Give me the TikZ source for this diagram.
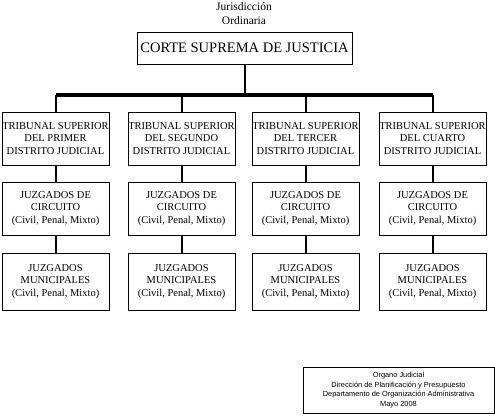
\documentclass[tikz,border=0pt]{standalone}
\usepackage{fontspec}
\setmainfont{Liberation Serif}
\newfontfamily\footfont{Liberation Sans}
\usepackage{tikz}

\tikzset{
  box/.style = {draw, line width=0.7pt, align=center, inner sep=0pt,
                minimum width=107pt, minimum height=53pt,
                font=\fontsize{10.5}{12.8}\selectfont},
  link/.style = {line width=2pt},
  bar/.style = {line width=3.2pt}
}

\begin{document}
\begin{tikzpicture}[x=1pt, y=-1pt]
    \useasboundingbox (0,0) rectangle (495,415);

    \node [align=center, font=\fontsize{11.5}{14}\selectfont] (jur) at (244,14) {Jurisdicción\\Ordinaria};
    \node [box, minimum width=215pt, minimum height=32pt, font=\fontsize{14.5}{16}\selectfont] (corte) at (244.5,48) {CORTE SUPREMA DE JUSTICIA};

    \foreach \i/\x/\ord in {1/55.5/PRIMER, 2/181.5/SEGUNDO, 3/305.5/TERCER, 4/432.5/CUARTO}
    {
        \node [box] (t\i) at (\x,138.5) {TRIBUNAL SUPERIOR\\DEL \ord\\DISTRITO JUDICIAL};
        \node [box] (c\i) at (\x,208.5) {JUZGADOS DE\\CIRCUITO\\(Civil, Penal, Mixto)};
        \node [box, minimum height=57pt] (m\i) at (\x,281.5) {JUZGADOS\\MUNICIPALES\\(Civil, Penal, Mixto)};
    }

    % links
    \coordinate (junc) at (244.5,95);
    \draw [link] (corte.south) -- (junc);
    \draw [bar] (t1.north |- junc) -- (t4.north |- junc);
    \foreach \i in {1,...,4}
    {
        \draw [link] (t\i.north |- junc) -- (t\i.north);
        \draw [link] (t\i) -- (c\i);
        \draw [link] (c\i) -- (m\i);
    }

    \node [draw, line width=0.7pt, align=center, minimum width=191pt, minimum height=46pt, inner sep=0pt,
           font=\footfont\fontsize{7.4}{9.7}\selectfont] (pie) at (398.5,390)
          {Organo Judicial\\Dirección de Planificación y Presupuesto\\Departamento de Organización Administrativa\\Mayo 2008};
\end{tikzpicture}
\end{document}
